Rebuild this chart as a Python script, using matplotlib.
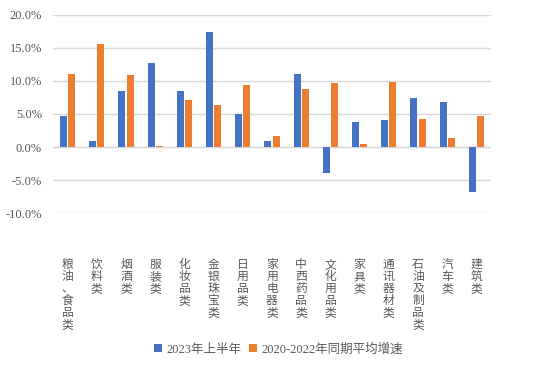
import numpy as np
import matplotlib.pyplot as plt
from matplotlib.ticker import FuncFormatter

categories = ['粮油、食品类', '饮料类', '烟酒类', '服装类', '化妆品类', '金银珠宝类', '日用品类',
              '家用电器类', '中西药品类', '文化用品类', '家具类', '通讯器材类', '石油及制品类',
              '汽车类', '建筑类']
h1_2023 = [4.7, 0.9, 8.5, 12.7, 8.5, 17.4, 5.0, 0.9, 11.1, -3.9, 3.8, 4.1, 7.4, 6.8, -6.8]
avg_2020_2022 = [11.1, 15.6, 10.9, 0.2, 7.1, 6.4, 9.4, 1.7, 8.8, 9.7, 0.5, 9.8, 4.2, 1.4, 4.7]
series_names = ['2023年上半年', '2020-2022年同期平均增速']

blue = '#4472C4'
orange = '#ED7D31'
gray = '#595959'
fam = ['Liberation Serif', 'Noto Sans CJK SC']

fig = plt.figure(figsize=(5.54, 3.70), dpi=100)
ax = fig.add_axes([0.0957, 0.4243, 0.7906, 0.5352])

x = np.arange(len(categories))
w = 0.24
b1 = ax.bar(x - 0.14, h1_2023, w, color=blue, label=series_names[0], zorder=3)
b2 = ax.bar(x + 0.14, avg_2020_2022, w, color=orange, label=series_names[1], zorder=3)

ax.set_xlim(-0.5, len(categories) - 0.5)
ax.set_ylim(-10, 20)
ax.set_yticks(np.arange(-10, 21, 5))
ax.yaxis.set_major_formatter(FuncFormatter(lambda v, p: f'{v:.1f}%'))
ax.grid(axis='y', color='#D9D9D9', linewidth=1, zorder=0)
ax.axhline(0, color='#D9D9D9', linewidth=1, zorder=1)
for s in ax.spines.values():
    s.set_visible(False)
ax.tick_params(axis='y', length=0, labelsize=9, labelcolor=gray, pad=8)
for t in ax.get_yticklabels():
    t.set_family(fam)
ax.set_xticks([])

# vertical stacked category labels below the plot area
for i, c in enumerate(categories):
    ax.text(i, -16.8, '\n'.join(c), ha='center', va='top', fontsize=8.5,
            color=gray, family=['Noto Sans CJK SC'], linespacing=0.9)

leg = fig.legend(handles=[b1, b2], loc='center', bbox_to_anchor=(0.503, 0.055), ncol=2,
                 frameon=False, handlelength=0.6, handleheight=0.6,
                 handletextpad=0.4, columnspacing=0.6, prop={'family': fam, 'size': 9})
for t in leg.get_texts():
    t.set_color(gray)

fig.savefig('out.png', dpi=100)
